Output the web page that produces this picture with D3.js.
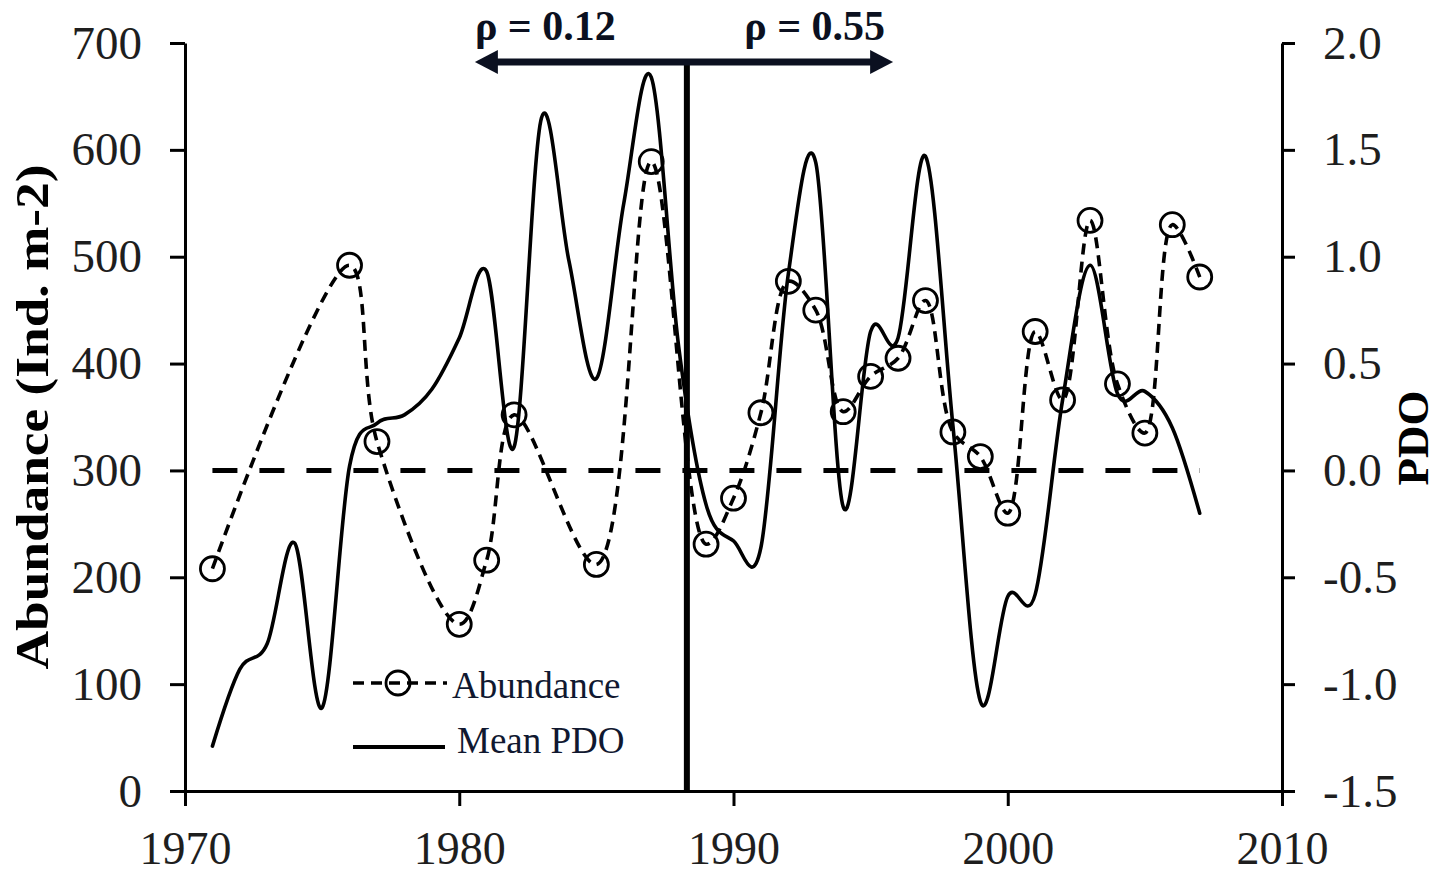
<!DOCTYPE html>
<html>
<head>
<meta charset="utf-8">
<script src="https://cdn.jsdelivr.net/npm/d3@7"></script>
<style>
  html, body { margin: 0; padding: 0; background: #fff; }
  svg { display: block; }
</style>
</head>
<body>
<script>
// ---------------- DATA ----------------
const abundanceYears = [1971,1976,1977,1980,1981,1982,1985,1987,1989,1990,1991,1992,1993,1994,1995,1996,1997,1998,1999,2000,2001,2002,2003,2004,2005,2006,2007];
const abundanceValues = [208,492,327,156,216,352,212,589,231,274,354,477,450,355,388,405,459,336,313,260,430,366,534,381,335,530,481];

const pdoYears = [1971,1972,1973,1974,1975,1976,1977,1978,1979,1980,1981,1982,1983,1984,1985,1986,1987,1988,1989,1990,1991,1992,1993,1994,1995,1996,1997,1998,1999,2000,2001,2002,2003,2004,2005,2006,2007];
const pdoValues = [-1.29,-0.93,-0.81,-0.34,-1.11,0.02,0.22,0.26,0.38,0.62,0.93,0.11,1.65,0.98,0.43,1.25,1.84,0.58,-0.16,-0.33,-0.36,0.92,1.44,-0.17,0.65,0.62,1.47,0.21,-1.08,-0.59,-0.58,0.33,0.96,0.36,0.37,0.20,-0.20];

const zeroLineYears = [1971, 2007];
const zeroLineValues = [0, 0];

const xTicks = [1970,1980,1990,2000,2010];
const leftTicks = [0,100,200,300,400,500,600,700];
const rightTicks = [-1.5,-1.0,-0.5,0.0,0.5,1.0,1.5,2.0];

const splitYear = 1988.3;
const arrowYears = [1980.57, 1995.82];
const rhoLabels = ["ρ = 0.12", "ρ = 0.55"];
const legendLabels = ["Abundance", "Mean PDO"];
const leftTitle = "Abundance (Ind. m-2)";
const rightTitle = "PDO";

// ---------------- CHART ----------------
const W = 1441, H = 876;
const svg = d3.select("body").append("svg").attr("width", W).attr("height", H);

const x = d3.scaleLinear().domain([1970, 2010]).range([185, 1282]);
const yL = d3.scaleLinear().domain([0, 700]).range([791, 43]);
const yR = d3.scaleLinear().domain([-1.5, 2.0]).range([791, 43]);

const serif = "'Liberation Serif', 'Times New Roman', serif";
const ink = "#0b1020";

// zero reference line
const zeroData = zeroLineYears.map((yr, i) => [yr, zeroLineValues[i]]);
svg.append("path")
  .attr("d", d3.line().x(d => x(d[0])).y(d => yR(d[1]))(zeroData))
  .attr("fill", "none").attr("stroke", "#000")
  .attr("stroke-width", 5).attr("stroke-dasharray", "25,22");

// PDO line
const pdoData = pdoYears.map((yr, i) => [yr, pdoValues[i]]);
svg.append("path")
  .attr("d", d3.line().x(d => x(d[0])).y(d => yR(d[1])).curve(d3.curveCardinal.tension(0))(pdoData))
  .attr("fill", "none").attr("stroke", "#000")
  .attr("stroke-width", 3.6).attr("stroke-linejoin", "round").attr("stroke-linecap", "round");

// Abundance line
const abData = abundanceYears.map((yr, i) => [yr, abundanceValues[i]]);
svg.append("path")
  .attr("d", d3.line().x(d => x(d[0])).y(d => yL(d[1])).curve(d3.curveCatmullRom.alpha(0.5))(abData))
  .attr("fill", "none").attr("stroke", "#000")
  .attr("stroke-width", 3.6).attr("stroke-dasharray", "11,7");

svg.append("g").selectAll("circle").data(abData).join("circle")
  .attr("cx", d => x(d[0])).attr("cy", d => yL(d[1])).attr("r", 12)
  .attr("fill", "none").attr("stroke", "#000").attr("stroke-width", 2.8);

// axes
function styleAxis(g, fs) {
  g.select(".domain").attr("stroke", "#000").attr("stroke-width", 3);
  g.selectAll(".tick line").attr("stroke", "#000").attr("stroke-width", 3);
  g.selectAll(".tick text").attr("fill", "#1e1e1e").style("font-family", serif).style("font-size", fs + "px");
}
const gL = svg.append("g").attr("transform", "translate(185,0)")
  .call(d3.axisLeft(yL).tickValues(leftTicks).tickSize(15).tickSizeOuter(0).tickPadding(28));
styleAxis(gL, 47);
const gB = svg.append("g").attr("transform", "translate(0,791)")
  .call(d3.axisBottom(x).tickValues(xTicks).tickFormat(d => String(d)).tickSize(15).tickSizeOuter(0).tickPadding(25));
styleAxis(gB, 46);
const gR = svg.append("g").attr("transform", "translate(1282,0)")
  .call(d3.axisRight(yR).tickValues(rightTicks).tickFormat(d => d.toFixed(1)).tickSize(13).tickSizeOuter(0).tickPadding(28));
styleAxis(gR, 47);

// split line
svg.append("line")
  .attr("x1", x(splitYear)).attr("x2", x(splitYear))
  .attr("y1", 60).attr("y2", yL(0))
  .attr("stroke", "#000").attr("stroke-width", 6);

// double arrow
const ay = 62, head = 23, hw = 12;
const ax0 = x(arrowYears[0]), ax1 = x(arrowYears[1]);
svg.append("line").attr("x1", ax0 + head - 2).attr("x2", ax1 - head + 2)
  .attr("y1", ay).attr("y2", ay).attr("stroke", ink).attr("stroke-width", 7);
svg.append("path").attr("d", `M${ax0},${ay} L${ax0 + head},${ay - hw} L${ax0 + head},${ay + hw} Z`).attr("fill", ink);
svg.append("path").attr("d", `M${ax1},${ay} L${ax1 - head},${ay - hw} L${ax1 - head},${ay + hw} Z`).attr("fill", ink);

// rho labels
svg.append("text").attr("x", ax0).attr("y", 40).text(rhoLabels[0])
  .style("font-family", serif).style("font-size", "42px").style("font-weight", "bold").attr("fill", ink);
svg.append("text").attr("x", ax1 - 8).attr("y", 40).attr("text-anchor", "end").text(rhoLabels[1])
  .style("font-family", serif).style("font-size", "42px").style("font-weight", "bold").attr("fill", ink);

// axis titles
svg.append("text").attr("transform", "translate(48,417) rotate(-90)")
  .attr("text-anchor", "middle").text(leftTitle)
  .attr("textLength", 505).attr("lengthAdjust", "spacingAndGlyphs")
  .style("font-family", serif).style("font-size", "46px").style("font-weight", "bold").attr("fill", "#000");
svg.append("text").attr("transform", "translate(1428,438) rotate(-90)")
  .attr("text-anchor", "middle").text(rightTitle)
  .style("font-family", serif).style("font-size", "45px").style("font-weight", "bold").attr("fill", "#000");

// legend
const lg = svg.append("g");
lg.append("line").attr("x1", 353).attr("x2", 447).attr("y1", 683).attr("y2", 683)
  .attr("stroke", "#000").attr("stroke-width", 3.6).attr("stroke-dasharray", "11,7");
lg.append("circle").attr("cx", 398).attr("cy", 683).attr("r", 12)
  .attr("fill", "none").attr("stroke", "#000").attr("stroke-width", 2.8);
lg.append("text").attr("x", 452).attr("y", 698).text(legendLabels[0])
  .style("font-family", serif).style("font-size", "37px").attr("fill", "#101830");
lg.append("line").attr("x1", 353).attr("x2", 445).attr("y1", 747).attr("y2", 747)
  .attr("stroke", "#000").attr("stroke-width", 4);
lg.append("text").attr("x", 457).attr("y", 753).text(legendLabels[1])
  .style("font-family", serif).style("font-size", "37px").attr("fill", "#101830");
</script>
</body>
</html>
